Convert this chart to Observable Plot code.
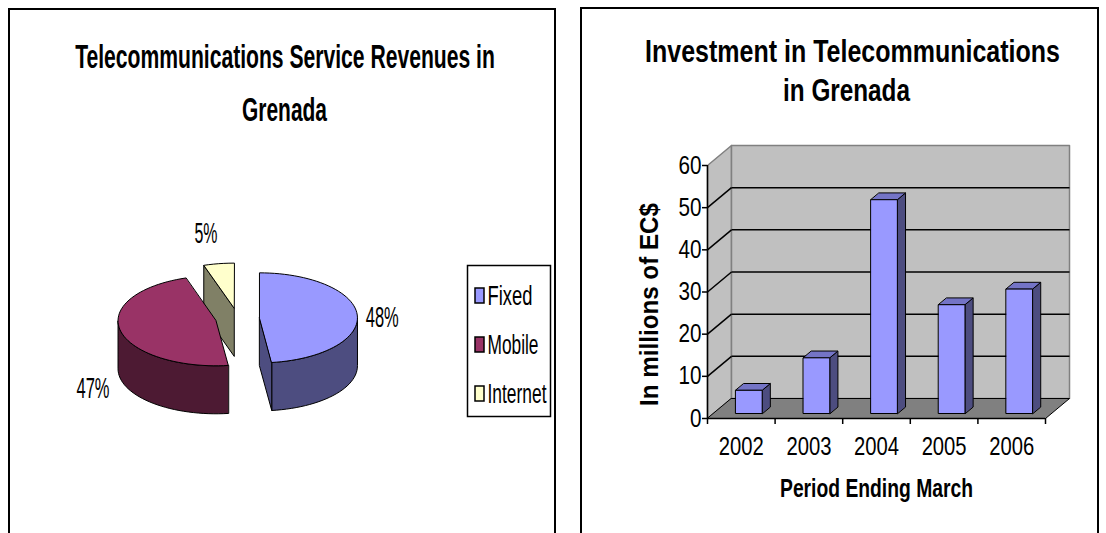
<!DOCTYPE html>
<html>
<head>
<meta charset="utf-8">
<script src="https://cdn.jsdelivr.net/npm/d3@7"></script>
<script src="https://cdn.jsdelivr.net/npm/@observablehq/plot@0.6"></script>
<style>
html, body { margin: 0; padding: 0; background: #fff; }
#root { position: relative; width: 1106px; height: 533px; overflow: hidden; }
.plot-box { position: absolute; top: 0; }
.panel { position: absolute; border: 2px solid #000; border-bottom: none; box-sizing: border-box; pointer-events: none; }
</style>
</head>
<body>
<div id="root">
  <div id="leftPlot" class="plot-box" style="left:0px"></div>
  <div id="rightPlot" class="plot-box" style="left:560px"></div>
  <div class="panel" style="left:8px; top:8px; width:548px; height:530px;"></div>
  <div class="panel" style="left:580px; top:7px; width:519px; height:530px;"></div>
</div>
<script>
// ---------------- DATA ----------------
const pieCategories = ["Fixed", "Mobile", "Internet"];
const pieShares = [48, 47, 5];
const pieLabels = ["48%", "47%", "5%"];

const years = ["2002", "2003", "2004", "2005", "2006"];
const investment = [5.5, 13.2, 50.7, 25.8, 29.5];
const yTicks = [0, 10, 20, 30, 40, 50, 60];

const leftTitle = ["Telecommunications Service Revenues in", "Grenada"];
const rightTitle = ["Investment in Telecommunications", "in Grenada"];
const yAxisTitle = "In millions of EC$";
const xAxisTitle = "Period Ending March";

// ---------------- STYLE / LAYOUT ----------------
const FONT = "'Liberation Sans', Arial, Helvetica, sans-serif";
const pieTop = ["#9999FF", "#993366", "#FFFFCC"];
const pieSide = ["#4D4D80", "#4D1A33", "#808066"];
const PIE = {cx: 237, cy: 318, rx: 98, ry: 45, depth: 48, ex: 22, ey: 10.5, gapX: 24, gapY: 12};
const pieLabelNudge = [[1, 13], [-4, 65], [-9, -9]];
const LEG = {x1: 467.5, y1: 265.5, x2: 550.5, y2: 416.5, swX: 475, swW: 9, swH: 15, y0: 295.5, step: 49, textX: 487, textDy: 8.5};

const W = 1106, H = 533, LW = 560, RW = 546;
const RM = {left: 147, right: 61, top: 165, bottom: 115};
const WALL_PX = {dx: 24, dy: 20};
const BAR = {left: 0.33, width: 0.39, f1: 0.25, f2: 0.59};
const barFront = "#9999FF", barSide = "#4D4D80", barTopC = "#7474C6";
const wallFill = "#C0C0C0", floorFill = "#808080", wallEdge = "#808080";

const TEXT_WIDTH = {
  "Telecommunications Service Revenues in": 420, "Grenada": 85,
  "Investment in Telecommunications": 415, "in Grenada": 127,
  "In millions of EC$": 203, "Period Ending March": 193,
  "Fixed": 45, "Mobile": 51, "Internet": 59,
  "48%": 33, "47%": 33, "5%": 23
};
function widthFor(t) {
  if (TEXT_WIDTH[t]) return TEXT_WIDTH[t];
  if (years.includes(t)) return 45;
  if (/^\d{1,2}$/.test(t)) return t.length * 11.5;
  return null;
}
// squeeze each text horizontally to the width it has in the reference
function fitTexts(svg) {
  d3.select(svg).selectAll("text").each(function () {
    const w = widthFor(this.textContent);
    if (!w) return;
    const nat = this.getComputedTextLength();
    if (!nat) return;
    const t = this.getAttribute("transform") || "";
    this.setAttribute("transform", `${t} scale(${(w / nat).toFixed(4)},1)`);
  });
}
function addText(svg, {x, y, text, size, weight = "normal", anchor = "middle", rotate = 0}) {
  d3.select(svg).append("text")
    .attr("transform", `translate(${x},${y}) rotate(${rotate})`)
    .attr("text-anchor", anchor)
    .attr("font-family", FONT)
    .attr("font-size", size)
    .attr("font-weight", weight)
    .attr("fill", "#000")
    .text(text);
}

// ---------------- PIE GEOMETRY ----------------
const rad = d => d * Math.PI / 180;
const total = d3.sum(pieShares);
let acc = 0;
const slices = pieShares.map((v, i) => {
  const a0 = acc / total * 360; acc += v; const a1 = acc / total * 360;
  const m = (a0 + a1) / 2;
  return {i, a0, a1, m,
    cx: PIE.cx + PIE.ex * Math.sin(rad(m)),
    cy: PIE.cy - PIE.ey * Math.cos(rad(m))};
});
const P = (s, a, dz = 0) => ({x: s.cx + PIE.rx * Math.sin(rad(a)), y: s.cy - PIE.ry * Math.cos(rad(a)) + dz});
const arc = (s, a0, a1, dz = 0) => {
  const n = Math.max(2, Math.ceil(Math.abs(a1 - a0) / 3));
  return d3.range(n + 1).map(k => P(s, a0 + (a1 - a0) * k / n, dz));
};
const piePolys = [];
let pid = 0;
const addPoly = (pts, fill, arr) => { const id = pid++; pts.forEach(p => arr.push({id, x: p.x, y: p.y, fill})); };
const order = slices.slice().sort((a, b) => Math.cos(rad(b.m)) - Math.cos(rad(a.m)));
for (const s of order) {
  const C = {x: s.cx, y: s.cy}, Cd = {x: s.cx, y: s.cy + PIE.depth};
  const lo = Math.max(s.a0, 90), hi = Math.min(s.a1, 270);
  if (lo < hi) addPoly([...arc(s, lo, hi), ...arc(s, hi, lo, PIE.depth)], pieSide[s.i], piePolys);
  if (Math.sin(rad(s.a0)) < -1e-6) addPoly([C, P(s, s.a0), P(s, s.a0, PIE.depth), Cd], pieSide[s.i], piePolys);
  if (Math.sin(rad(s.a1)) > 1e-6) addPoly([C, P(s, s.a1), P(s, s.a1, PIE.depth), Cd], pieSide[s.i], piePolys);
  addPoly([C, ...arc(s, s.a0, s.a1)], pieTop[s.i], piePolys);
}
const labelX = s => s.cx + (PIE.rx + PIE.gapX) * Math.sin(rad(s.m)) + pieLabelNudge[s.i][0];
const labelY = s => s.cy - (PIE.ry + PIE.gapY) * Math.cos(rad(s.m)) + pieLabelNudge[s.i][1];

const left = Plot.plot({
  width: LW, height: H, margin: 0,
  x: {domain: [0, LW], range: [0, LW], axis: null},
  y: {domain: [0, H], range: [0, H], axis: null},
  color: {type: "identity"},
  style: {background: "transparent", fontFamily: FONT, overflow: "visible"},
  marks: [
    Plot.line(piePolys, {x: "x", y: "y", z: "id", fill: "fill", stroke: "#000", strokeWidth: 1, curve: "linear-closed"}),
    Plot.text(slices, {x: labelX, y: labelY, text: s => pieLabels[s.i], textAnchor: "middle", lineAnchor: "bottom", fontSize: 30, fill: "#000"}),
    Plot.rect([LEG], {x1: "x1", x2: "x2", y1: "y1", y2: "y2", fill: "#fff", stroke: "#000", strokeWidth: 1.5}),
    Plot.rect(pieCategories, {
      x1: LEG.swX, x2: LEG.swX + LEG.swW,
      y1: (d, i) => LEG.y0 + i * LEG.step - LEG.swH / 2,
      y2: (d, i) => LEG.y0 + i * LEG.step + LEG.swH / 2,
      fill: (d, i) => pieTop[i], stroke: "#000", strokeWidth: 1.5
    }),
    Plot.text(pieCategories, {x: LEG.textX, y: (d, i) => LEG.y0 + i * LEG.step + LEG.textDy, text: d => d, textAnchor: "start", lineAnchor: "bottom", fontSize: 28, fill: "#000"})
  ]
});
addText(left, {x: 285, y: 68, text: leftTitle[0], size: 33, weight: "bold"});
addText(left, {x: 284.5, y: 121, text: leftTitle[1], size: 33, weight: "bold"});
document.getElementById("leftPlot").appendChild(left);
fitTexts(left);

// ---------------- BAR CHART ----------------
const n = years.length;
const pxPerX = (RW - RM.left - RM.right) / n;
const pxPerY = (H - RM.top - RM.bottom) / d3.max(yTicks);
const Dx = WALL_PX.dx / pxPerX, Dy = WALL_PX.dy / pxPerY;
const yMax = d3.max(yTicks);

const wallPolys = [];
addPoly([{x: 0, y: 0}, {x: 0, y: yMax}, {x: Dx, y: yMax + Dy}, {x: Dx, y: Dy}], wallFill, wallPolys);
addPoly([{x: Dx, y: Dy}, {x: Dx, y: yMax + Dy}, {x: n + Dx, y: yMax + Dy}, {x: n + Dx, y: Dy}], wallFill, wallPolys);
const floorPolys = [];
addPoly([{x: 0, y: 0}, {x: n, y: 0}, {x: n + Dx, y: Dy}, {x: Dx, y: Dy}], floorFill, floorPolys);

const barPolys = [];
investment.forEach((v, i) => {
  const xl = i + BAR.left, xr = xl + BAR.width;
  const p = (x, y, f) => ({x: x + f * Dx, y: y + f * Dy});
  addPoly([p(xr, 0, BAR.f1), p(xr, v, BAR.f1), p(xr, v, BAR.f2), p(xr, 0, BAR.f2)], barSide, barPolys);
  addPoly([p(xl, v, BAR.f1), p(xr, v, BAR.f1), p(xr, v, BAR.f2), p(xl, v, BAR.f2)], barTopC, barPolys);
  addPoly([p(xl, 0, BAR.f1), p(xr, 0, BAR.f1), p(xr, v, BAR.f1), p(xl, v, BAR.f1)], barFront, barPolys);
});
const innerTicks = yTicks.filter(t => t > 0 && t < yMax);

const right = Plot.plot({
  width: RW, height: H,
  marginLeft: RM.left, marginRight: RM.right, marginTop: RM.top, marginBottom: RM.bottom,
  x: {domain: [0, n]},
  y: {domain: [0, yMax]},
  color: {type: "identity"},
  style: {background: "transparent", fontFamily: FONT, fontSize: "25px", overflow: "visible"},
  marks: [
    Plot.line(wallPolys, {x: "x", y: "y", z: "id", fill: "fill", stroke: wallEdge, strokeWidth: 1.5, curve: "linear-closed"}),
    Plot.line(floorPolys, {x: "x", y: "y", z: "id", fill: "fill", stroke: "#000", strokeWidth: 1, curve: "linear-closed"}),
    Plot.link(innerTicks, {x1: Dx, x2: n + Dx, y1: t => t + Dy, y2: t => t + Dy, stroke: "#000", strokeWidth: 1.5}),
    Plot.link(innerTicks, {x1: 0, x2: Dx, y1: t => t, y2: t => t + Dy, stroke: "#000", strokeWidth: 1.5}),
    Plot.line(barPolys, {x: "x", y: "y", z: "id", fill: "fill", stroke: "#000", strokeWidth: 1, curve: "linear-closed"}),
    Plot.ruleX([0], {stroke: "#000", strokeWidth: 1.5}),
    Plot.ruleY([0], {stroke: "#000", strokeWidth: 1.5}),
    Plot.axisY({ticks: yTicks, tickSize: 5, tickPadding: 1, tickFormat: d => String(d), label: null, strokeWidth: 1.5}),
    Plot.axisX({ticks: d3.range(n + 1), tickSize: 6, tickFormat: () => "", label: null, strokeWidth: 1.5}),
    Plot.axisX({ticks: years.map((_, i) => i + 0.5), tickSize: 0, tickPadding: 19, tickFormat: t => years[Math.floor(t)], label: null})
  ]
});
addText(right, {x: 852.5 - 560, y: 62, text: rightTitle[0], size: 31, weight: "bold"});
addText(right, {x: 846.5 - 560, y: 101, text: rightTitle[1], size: 31, weight: "bold"});
addText(right, {x: 658 - 560, y: 304.5, text: yAxisTitle, size: 25, weight: "bold", rotate: -90});
addText(right, {x: 876.5 - 560, y: 497, text: xAxisTitle, size: 25, weight: "bold"});
document.getElementById("rightPlot").appendChild(right);
fitTexts(right);
</script>
</body>
</html>
